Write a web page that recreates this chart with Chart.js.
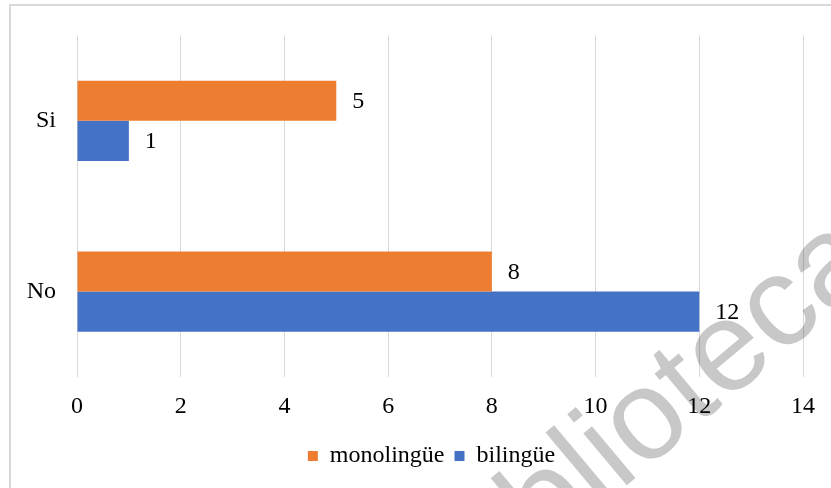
<!DOCTYPE html>
<html>
<head>
<meta charset="utf-8">
<script src="https://cdn.jsdelivr.net/npm/chart.js@4"></script>
<style>
  html, body { margin: 0; padding: 0; background: #fff; overflow: hidden; }
  #wrap { position: relative; width: 831px; height: 488px; }
  #frame { position: absolute; left: 9px; top: 4px; width: 900px; height: 600px; border: 2px solid #d9d9d9; box-sizing: border-box; }
  canvas { position: absolute; left: 0; top: 0; }
</style>
</head>
<body>
<div id="wrap">
  <div id="frame"></div>
  <canvas id="c" width="831" height="488"></canvas>
</div>
<script>
const categories = ['Si', 'No'];
const seriesNames = ['monolingüe', 'bilingüe'];
const monolingue = [5, 8];
const bilingue = [1, 12];
const xTicks = [0, 2, 4, 6, 8, 10, 12, 14];
const watermarkText = 'biblioteca';

const FONT = "'Liberation Serif', 'Times New Roman', serif";

const valueLabels = {
  id: 'valueLabels',
  afterDatasetsDraw(chart) {
    const ctx = chart.ctx;
    ctx.save();
    ctx.font = '24px ' + FONT;
    ctx.fillStyle = '#000';
    ctx.textAlign = 'left';
    ctx.textBaseline = 'middle';
    chart.data.datasets.forEach((ds, i) => {
      const meta = chart.getDatasetMeta(i);
      meta.data.forEach((el, j) => {
        ctx.fillText(String(ds.data[j]), el.x + 16, el.y + 1);
      });
    });
    ctx.restore();
  }
};

// centre the legend under the outer frame rather than the canvas
const legendShift = {
  id: 'legendShift',
  afterLayout(chart) {
    if (chart.legend) {
      chart.legend.left += 30;
      chart.legend.right += 30;
    }
  }
};

const watermark = {
  id: 'watermark',
  afterDraw(chart) {
    const ctx = chart.ctx;
    ctx.save();
    ctx.globalCompositeOperation = 'multiply';
    ctx.translate(652, 418);
    ctx.rotate(-40 * Math.PI / 180);
    ctx.font = "128px 'Liberation Sans', Arial, sans-serif";
    ctx.fillStyle = '#c8c8c8';
    ctx.textAlign = 'center';
    ctx.textBaseline = 'middle';
    ctx.fillText(watermarkText, 0, 0);
    ctx.restore();
  }
};

new Chart(document.getElementById('c'), {
  type: 'bar',
  data: {
    labels: categories,
    datasets: [
      { label: seriesNames[0], data: monolingue, backgroundColor: '#ED7D31', borderWidth: 0 },
      { label: seriesNames[1], data: bilingue, backgroundColor: '#4472C4', borderWidth: 0 }
    ]
  },
  options: {
    indexAxis: 'y',
    responsive: false,
    animation: false,
    devicePixelRatio: 1,
    categoryPercentage: 0.47,
    barPercentage: 1,
    layout: { padding: { top: 33, right: 28, bottom: 10, left: 0 } },
    plugins: {
      legend: {
        position: 'bottom',
        labels: {
          boxWidth: 10, boxHeight: 10, padding: 10,
          color: '#000',
          font: { family: FONT, size: 24 }
        }
      },
      tooltip: { enabled: false }
    },
    scales: {
      x: {
        min: 0, max: 14,
        afterBuildTicks(scale) { scale.ticks = xTicks.map(v => ({ value: v })); },
        afterFit(scale) { scale.height = 57; },
        grid: { color: '#d9d9d9', lineWidth: 1, drawTicks: false },
        border: { display: false },
        ticks: { padding: 15, color: '#000', font: { family: FONT, size: 24 } }
      },
      y: {
        afterFit(scale) { scale.width = 77; },
        grid: { display: false, drawTicks: false },
        border: { display: false },
        ticks: { padding: 21, color: '#000', font: { family: FONT, size: 24 } }
      }
    }
  },
  plugins: [valueLabels, legendShift, watermark]
});
</script>
</body>
</html>
